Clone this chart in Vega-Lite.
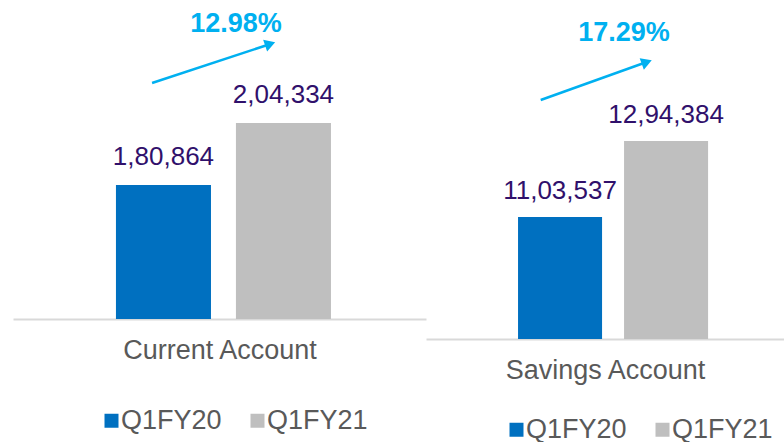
{
  "$schema": "https://vega.github.io/schema/vega-lite/v6.json",
  "padding": {"left": 13, "top": 0, "right": 0, "bottom": 0},
  "spacing": 0,
  "config": {
    "view": {"stroke": null},
    "font": "Liberation Sans",
    "text": {"font": "Liberation Sans"}
  },
  "datasets": {
    "bars": [
      {"account": "Current Account", "period": "Q1FY20", "value": 180864, "label": "1,80,864"},
      {"account": "Current Account", "period": "Q1FY21", "value": 204334, "label": "2,04,334"},
      {"account": "Savings Account", "period": "Q1FY20", "value": 1103537, "label": "11,03,537"},
      {"account": "Savings Account", "period": "Q1FY21", "value": 1294384, "label": "12,94,384"}
    ],
    "arrows": [
      {"account": "Current Account", "period": "Q1FY20", "y": 219475},
      {"account": "Current Account", "period": "Q1FY21", "y": 234428},
      {"account": "Savings Account", "period": "Q1FY20", "y": 1397343},
      {"account": "Savings Account", "period": "Q1FY21", "y": 1492768}
    ],
    "heads": [
      {"account": "Current Account", "period": "Q1FY21", "y": 234277},
      {"account": "Savings Account", "period": "Q1FY21", "y": 1492516}
    ],
    "growth": [
      {"account": "Current Account", "period": "Q1FY21", "y": 241809, "label": "12.98%"},
      {"account": "Savings Account", "period": "Q1FY21", "y": 1565591, "label": "17.29%"}
    ]
  },
  "hconcat": [
    {
      "width": 413,
      "height": 319,
      "layer": [
        {
          "data": {"name": "bars"},
          "transform": [{"filter": "datum.account === 'Current Account'"}],
          "mark": {"type": "bar"},
          "encoding": {
            "x": {
              "field": "period", "type": "nominal",
              "scale": {"paddingInner": 0.208, "paddingOuter": 0.825, "align": 0.52},
              "axis": {"title": "Current Account", "labels": false, "ticks": false, "domainColor": "#D9D9D9", "domainWidth": 2, "titleFontSize": 27, "titleFontWeight": "normal", "titleColor": "#595959", "titleFont": "Liberation Sans", "titlePadding": 18}
            },
            "y": {"field": "value", "type": "quantitative", "scale": {"domain": [130139, 250894], "zero": false, "nice": false}, "axis": null},
            "y2": {"datum": 130139},
            "color": {
              "field": "period", "type": "nominal",
              "scale": {"domain": ["Q1FY20", "Q1FY21"], "range": ["#0070C0", "#BFBFBF"]},
              "legend": {"orient": "none", "legendX": 85, "legendY": 407, "direction": "horizontal", "title": null, "symbolType": "square", "symbolSize": 196, "symbolStrokeWidth": 0, "labelFontSize": 27, "labelColor": "#595959", "labelFont": "Liberation Sans", "columnPadding": 22, "labelOffset": -4}
            }
          }
        },
        {
          "data": {"name": "bars"},
          "transform": [{"filter": "datum.account === 'Current Account'"}],
          "mark": {"type": "text", "baseline": "middle", "dy": -28, "fontSize": 26, "color": "#30106B"},
          "encoding": {
            "x": {"field": "period", "type": "nominal"},
            "y": {"field": "value", "type": "quantitative"},
            "text": {"field": "label"}
          }
        },
        {
          "data": {"name": "arrows"},
          "transform": [{"filter": "datum.account === 'Current Account'"}],
          "mark": {"type": "line", "color": "#00B0F0", "strokeWidth": 2.5},
          "encoding": {
            "x": {"field": "period", "type": "nominal", "bandPosition": 0.38},
            "y": {"field": "y", "type": "quantitative"}
          }
        },
        {
          "data": {"name": "heads"},
          "transform": [{"filter": "datum.account === 'Current Account'"}],
          "mark": {"type": "point", "shape": "triangle-right", "filled": true, "size": 150, "angle": 341, "color": "#00B0F0", "opacity": 1},
          "encoding": {
            "x": {"field": "period", "type": "nominal", "bandPosition": 0.36},
            "y": {"field": "y", "type": "quantitative"}
          }
        },
        {
          "data": {"name": "growth"},
          "transform": [{"filter": "datum.account === 'Current Account'"}],
          "mark": {"type": "text", "baseline": "middle", "fontSize": 27, "fontWeight": "bold", "color": "#00B0F0"},
          "encoding": {
            "x": {"field": "period", "type": "nominal", "bandPosition": 0},
            "y": {"field": "y", "type": "quantitative"},
            "text": {"field": "label"}
          }
        }
      ]
    },
    {
      "width": 358,
      "height": 339,
      "layer": [
        {
          "data": {"name": "bars"},
          "transform": [{"filter": "datum.account === 'Savings Account'"}],
          "mark": {"type": "bar"},
          "encoding": {
            "x": {
              "field": "period", "type": "nominal",
              "scale": {"paddingInner": 0.2075, "paddingOuter": 0.792, "align": 0.548},
              "axis": {"title": "Savings Account", "labels": false, "ticks": false, "domainColor": "#D9D9D9", "domainWidth": 2, "titleFontSize": 27, "titleFontWeight": "normal", "titleColor": "#595959", "titleFont": "Liberation Sans", "titlePadding": 18}
            },
            "y": {"field": "value", "type": "quantitative", "scale": {"domain": [797172, 1648460], "zero": false, "nice": false}, "axis": null},
            "y2": {"datum": 797172},
            "color": {
              "field": "period", "type": "nominal",
              "scale": {"domain": ["Q1FY20", "Q1FY21"], "range": ["#0070C0", "#BFBFBF"]},
              "legend": {"orient": "none", "legendX": 77, "legendY": 416, "direction": "horizontal", "title": null, "symbolType": "square", "symbolSize": 196, "symbolStrokeWidth": 0, "labelFontSize": 27, "labelColor": "#595959", "labelFont": "Liberation Sans", "columnPadding": 22, "labelOffset": -4}
            }
          }
        },
        {
          "data": {"name": "bars"},
          "transform": [{"filter": "datum.account === 'Savings Account'"}],
          "mark": {"type": "text", "baseline": "middle", "dy": -26, "fontSize": 26, "color": "#30106B"},
          "encoding": {
            "x": {"field": "period", "type": "nominal"},
            "y": {"field": "value", "type": "quantitative"},
            "text": {"field": "label"}
          }
        },
        {
          "data": {"name": "arrows"},
          "transform": [{"filter": "datum.account === 'Savings Account'"}],
          "mark": {"type": "line", "color": "#00B0F0", "strokeWidth": 2.5},
          "encoding": {
            "x": {"field": "period", "type": "nominal", "bandPosition": 0.27},
            "y": {"field": "y", "type": "quantitative"}
          }
        },
        {
          "data": {"name": "heads"},
          "transform": [{"filter": "datum.account === 'Savings Account'"}],
          "mark": {"type": "point", "shape": "triangle-right", "filled": true, "size": 150, "angle": 340, "color": "#00B0F0", "opacity": 1},
          "encoding": {
            "x": {"field": "period", "type": "nominal", "bandPosition": 0.27},
            "y": {"field": "y", "type": "quantitative"}
          }
        },
        {
          "data": {"name": "growth"},
          "transform": [{"filter": "datum.account === 'Savings Account'"}],
          "mark": {"type": "text", "baseline": "middle", "fontSize": 27, "fontWeight": "bold", "color": "#00B0F0"},
          "encoding": {
            "x": {"field": "period", "type": "nominal", "bandPosition": 0},
            "y": {"field": "y", "type": "quantitative"},
            "text": {"field": "label"}
          }
        }
      ]
    }
  ],
  "resolve": {
    "scale": {"x": "independent", "y": "independent"},
    "legend": {"color": "independent"}
  }
}
